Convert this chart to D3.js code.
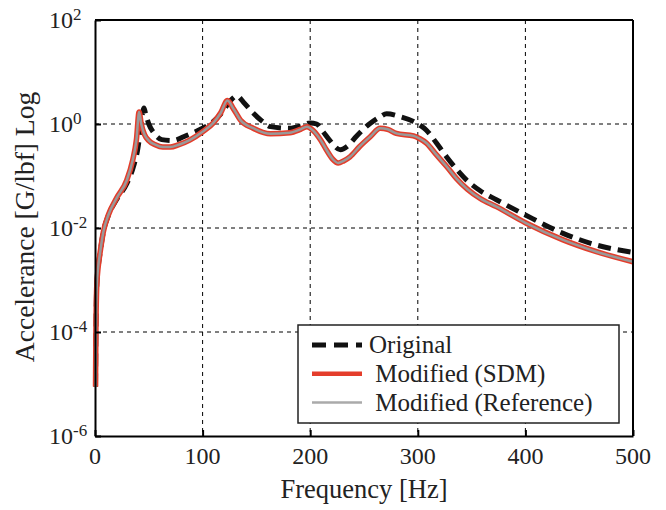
<!DOCTYPE html>
<html>
<head>
<meta charset="utf-8">
<script src="https://cdn.jsdelivr.net/npm/d3@7"></script>
<style>
  body { margin: 0; background: #fff; }
  svg { font-family: "Liberation Serif", "Times New Roman", serif; }
  .grid line { stroke: #000; stroke-width: 1; stroke-dasharray: 4,4; }
  .axis path, .axis line { stroke: #000; stroke-width: 2; }
</style>
</head>
<body>
<div class="chart"></div>
<script>
// frequency response (Hz, G/lbf)
var freqOrig = [0.5, 0.8, 1.6, 3, 4.6, 7.7, 12.4, 20.2, 29.5, 36, 40, 42.5, 44.5, 45.5, 47, 50, 55, 62, 72, 85,
  100, 110, 118, 126, 132, 138, 147, 155, 163, 181, 192, 200, 206, 212, 218, 228, 235, 243, 255, 265,
  271, 284, 296, 302, 308, 317, 327, 336, 346, 358, 373, 400, 435, 466, 500];
var accOrig = [8.9e-6, 7.9e-5, 7.4e-4, 1.8e-3, 3.2e-3, 8.3e-3, 0.0174, 0.0355, 0.071, 0.158, 0.355, 0.89, 1.78, 2.04, 1.58, 1.0, 0.66, 0.50, 0.48, 0.60,
  0.83, 1.12, 1.66, 2.82, 3.47, 2.63, 1.62, 1.15, 0.89, 0.83, 0.93, 1.05, 1.0, 0.71, 0.49, 0.32, 0.38, 0.58, 1.0, 1.38,
  1.58, 1.38, 1.12, 0.95, 0.76, 0.44, 0.23, 0.135, 0.081, 0.052, 0.035, 0.0178, 7.9e-3, 4.7e-3, 3.4e-3];

var freqMod = [0.5, 0.8, 1.6, 3, 4.6, 7.7, 12.4, 20.2, 29.5, 35, 38.5, 41, 43, 46, 50, 56, 63, 70, 78,
  88, 100, 110, 117, 123, 129, 135, 147, 163, 181, 191, 197, 203, 210, 215, 221, 226, 231, 237, 246,
  256, 265, 272, 280, 296, 302, 308, 317, 327, 336, 346, 358, 373, 400, 435, 466, 500];
var accSDM = [8.9e-6, 7.9e-5, 7.4e-4, 1.8e-3, 3.2e-3, 8.3e-3, 0.0178, 0.038, 0.083, 0.20, 0.50, 1.70, 1.0, 0.63, 0.48, 0.40, 0.36, 0.36, 0.40,
  0.49, 0.71, 1.05, 1.66, 2.82, 1.91, 1.20, 0.83, 0.65, 0.68, 0.79, 0.89, 0.74, 0.48, 0.32, 0.21, 0.178, 0.195, 0.234, 0.37,
  0.575, 0.83, 0.79, 0.66, 0.59, 0.52, 0.43, 0.26, 0.151, 0.089, 0.056, 0.037, 0.0257, 0.0126, 5.9e-3, 3.5e-3, 2.24e-3];
// reference solution lies on top of the SDM curve
var accRef = accSDM.slice();

var xTicks = [0, 100, 200, 300, 400, 500];
var yExps = [2, 0, -2, -4, -6];
var legendLabels = ["Original", " Modified (SDM)", " Modified (Reference)"];

var margin = { top: 20, right: 33, bottom: 74, left: 95 },
    width = 666 - margin.left - margin.right,
    height = 510 - margin.top - margin.bottom;

var svg = d3.select('.chart')
    .append('svg')
    .attr("width", 666)
    .attr("height", 510);

var g = svg.append("g")
    .attr("transform", "translate(" + margin.left + "," + margin.top + ")");

var x = d3.scaleLinear().domain([0, 500]).range([0, width]);
var y = d3.scaleLog().domain([1e-6, 1e2]).range([height, 0]);

// dashed grid
g.append("g").attr("class", "grid")
    .selectAll("line.v")
    .data([100, 200, 300, 400])
    .enter().append("line")
    .attr("x1", function(d) { return x(d); })
    .attr("x2", function(d) { return x(d); })
    .attr("y1", 0).attr("y2", height);

g.append("g").attr("class", "grid")
    .selectAll("line.h")
    .data([0, -2, -4])
    .enter().append("line")
    .attr("x1", 0).attr("x2", width)
    .attr("y1", function(d) { return y(Math.pow(10, d)); })
    .attr("y2", function(d) { return y(Math.pow(10, d)); });

var line = d3.line()
    .x(function(d) { return x(d[0]); })
    .y(function(d) { return y(d[1]); })
    .curve(d3.curveMonotoneX);

g.append("path")
    .datum(d3.zip(freqOrig, accOrig))
    .attr("d", line)
    .attr("fill", "none")
    .attr("stroke", "#111")
    .attr("stroke-width", 5)
    .attr("stroke-dasharray", "13,7");

g.append("path")
    .datum(d3.zip(freqMod, accSDM))
    .attr("d", line)
    .attr("fill", "none")
    .attr("stroke", "#e43d2b")
    .attr("stroke-width", 5.5);

g.append("path")
    .datum(d3.zip(freqMod, accRef))
    .attr("d", line)
    .attr("fill", "none")
    .attr("stroke", "#999")
    .attr("stroke-width", 2.5);

// axes, ticks inward
var xAxis = d3.axisBottom(x).tickValues(xTicks).tickSizeInner(-6).tickSizeOuter(0).tickFormat("");
g.append("g").attr("class", "axis")
    .attr("transform", "translate(0," + height + ")")
    .call(xAxis);

var yAxis = d3.axisLeft(y).tickValues(yExps.map(function(e) { return Math.pow(10, e); }))
    .tickSizeInner(-6).tickSizeOuter(0).tickFormat("");
g.append("g").attr("class", "axis").call(yAxis);

// frame top/right
g.append("line").attr("x1", 0).attr("x2", width).attr("y1", 0).attr("y2", 0)
    .attr("stroke", "#000").attr("stroke-width", 2);
g.append("line").attr("x1", width).attr("x2", width).attr("y1", 0).attr("y2", height)
    .attr("stroke", "#000").attr("stroke-width", 2);

// tick labels
g.selectAll("text.xt")
    .data(xTicks)
    .enter().append("text")
    .attr("x", function(d) { return x(d); })
    .attr("y", height + 28)
    .attr("text-anchor", "middle")
    .attr("font-size", 24)
    .attr("fill", "#222")
    .text(function(d) { return d; });

var yt = g.selectAll("text.yt")
    .data(yExps)
    .enter().append("text")
    .attr("x", -46)
    .attr("y", function(d) { return y(Math.pow(10, d)) + 8; })
    .attr("font-size", 24)
    .attr("fill", "#222");
yt.append("tspan").text("10");
yt.append("tspan")
    .attr("dy", -8.5)
    .attr("font-size", 17)
    .text(function(d) { return d; });

// axis titles
svg.append("text")
    .attr("x", margin.left + width / 2)
    .attr("y", 498)
    .attr("text-anchor", "middle")
    .attr("font-size", 26.5)
    .attr("fill", "#222")
    .text("Frequency [Hz]");

svg.append("text")
    .attr("transform", "translate(34," + (margin.top + height / 2 - 1) + ") rotate(-90)")
    .attr("text-anchor", "middle")
    .attr("font-size", 27.5)
    .attr("fill", "#222")
    .text("Accelerance [G/lbf] Log");

// legend
var lg = svg.append("g").attr("transform", "translate(298,325)");
lg.append("rect")
    .attr("width", 321).attr("height", 98)
    .attr("fill", "#fff")
    .attr("stroke", "#222")
    .attr("stroke-width", 1.5);

var styles = [
    { stroke: "#111", w: 5, dash: "14,8" },
    { stroke: "#e43d2b", w: 4.5, dash: null },
    { stroke: "#aaa", w: 2.5, dash: null }
];

legendLabels.forEach(function(lab, i) {
    var yy = 20 + i * 28.8;
    lg.append("line")
        .attr("x1", 14).attr("x2", 64)
        .attr("y1", yy).attr("y2", yy)
        .attr("stroke", styles[i].stroke)
        .attr("stroke-width", styles[i].w)
        .attr("stroke-dasharray", styles[i].dash);
    lg.append("text")
        .attr("x", 71)
        .attr("y", yy + 8)
        .attr("font-size", 25)
        .attr("fill", "#222")
        .style("white-space", "pre")
        .text(lab);
});
</script>
</body>
</html>
